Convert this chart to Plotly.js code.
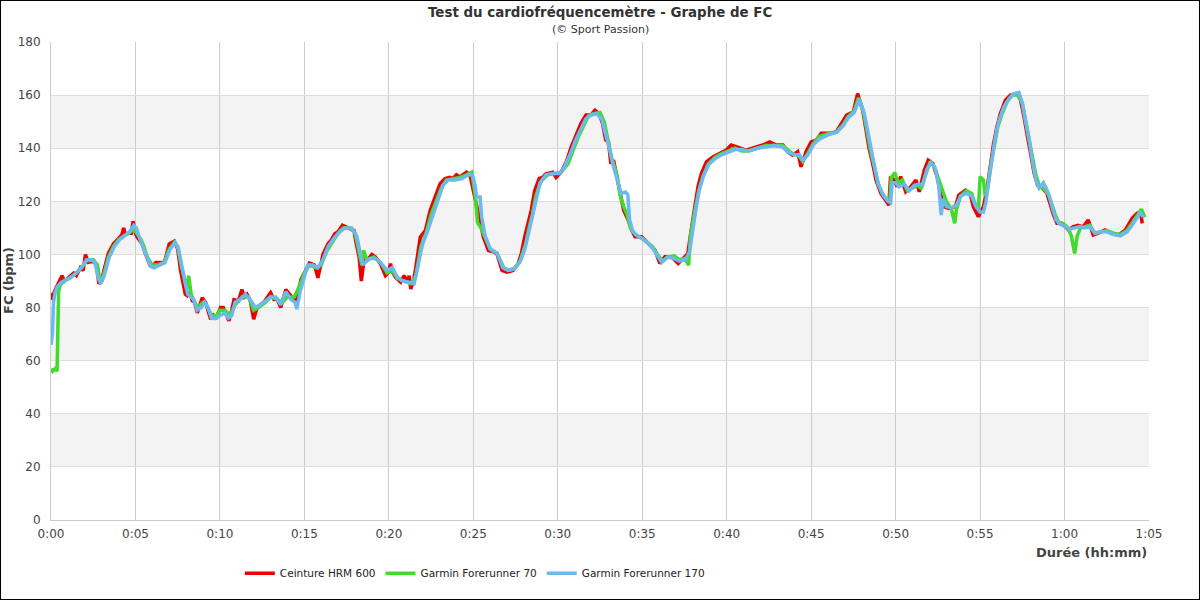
<!DOCTYPE html>
<html><head><meta charset="utf-8">
<script src="https://cdn.plot.ly/plotly-3.0.1.min.js"></script>
<style>
html,body{margin:0;padding:0;background:#fff;}
#chart{width:1198px;height:598px;border:1px solid #000;}
</style></head><body>
<div id="chart"></div>
<script>
const seriesNames = ["Ceinture HRM 600", "Garmin Forerunner 70", "Garmin Forerunner 170"];
const seriesColors = ["#ee0000", "#3fdd2a", "#6cb9f0"];
const xTickVals = [0,5,10,15,20,25,30,35,40,45,50,55,60,65];
const xTickText = ["0:00","0:05","0:10","0:15","0:20","0:25","0:30","0:35","0:40","0:45","0:50","0:55","1:00","1:05"];
const yTickVals = [0,20,40,60,80,100,120,140,160,180];

const hrmT = [0,0.1,0.2,0.35,0.5,0.65,0.8,1.0,1.34,1.5,1.74,1.9,2.04,2.2,2.5,2.7,2.83,3.0,3.12,3.4,3.7,4.0,4.2,4.3,4.4,4.6,4.75,4.86,5.0,5.1,5.4,5.55,5.7,5.85,6.0,6.2,6.5,6.7,6.8,7.0,7.3,7.5,7.67,7.87,7.95,8.06,8.2,8.36,8.5,8.66,8.8,8.95,9.15,9.3,9.45,9.6,9.74,9.9,10.04,10.2,10.33,10.53,10.7,10.83,11.1,11.3,11.45,11.6,11.8,12.0,12.15,12.3,12.6,12.8,13.0,13.2,13.4,13.6,13.75,13.9,14.2,14.5,14.65,14.8,15.1,15.3,15.6,15.8,16.0,16.1,16.4,16.6,16.8,17.0,17.25,17.55,17.94,18.04,18.24,18.37,18.45,18.53,18.8,19.0,19.2,19.5,19.8,19.95,20.1,20.25,20.4,20.7,20.9,21.1,21.2,21.3,21.45,21.57,21.86,22.16,22.45,22.75,23.04,23.33,23.6,23.8,24.0,24.2,24.4,24.6,24.8,25.0,25.2,25.4,25.6,25.9,26.2,26.4,26.7,27.0,27.35,27.65,27.84,28.04,28.24,28.43,28.63,28.9,29.1,29.3,29.7,29.9,30.2,30.5,30.8,31.1,31.37,31.67,31.96,32.2,32.45,32.65,32.84,33.0,33.14,33.3,33.5,33.7,33.9,34.17,34.37,34.57,34.96,35.26,35.55,35.75,36.04,36.34,36.73,37.13,37.52,37.7,37.9,38.1,38.3,38.5,38.8,39.2,39.6,39.98,40.27,40.77,41.16,41.75,42.15,42.54,42.93,43.33,43.6,43.9,44.2,44.4,44.7,45.0,45.3,45.6,46.1,46.5,46.8,47.1,47.5,47.75,48.05,48.25,48.45,48.64,48.84,49.13,49.4,49.6,49.7,49.9,50.1,50.3,50.6,50.9,51.2,51.4,51.7,51.93,52.2,52.46,52.66,52.85,53.15,53.54,53.74,54.13,54.43,54.6,54.9,55.2,55.4,55.6,55.8,56.0,56.2,56.5,56.8,57.2,57.4,57.6,57.8,58.0,58.2,58.4,58.7,58.96,59.15,59.35,59.55,59.84,60.24,60.5,60.8,61.1,61.4,61.7,62.0,62.4,62.8,63.2,63.6,64.0,64.3,64.5,64.6];
const hrmV = [85.5,83,86,88,89.5,92,90,91,93,92,95,94,100,97,97.5,96,89,90,93.7,100.5,104,106,107.5,110,107.5,108,108,112.5,108,106.5,104,101,98,96,95.5,97,97,97,99,104,105,102,94,88,85,84.5,86,82.5,82,78,81,83.7,82,79,75.6,77,75.6,78,80,80,78,75,79,83,82.5,86.8,84,85,82.5,75.6,79,80.6,82,84,85.6,83,83,80,83,86.8,84.4,83,86,90.6,94.3,96.8,96,91.2,97,100,104,105.5,107.8,108.6,111,110,109,105,99,90,94,97.7,98.4,100,99,96.5,92,93,96.5,93,91.4,89.6,92,89.6,92,87,90,94,106.5,109,116.6,121.6,126.7,128.6,129,128.6,130,129.2,130,131,130,124,118,111.6,106.5,101.5,101,100.2,94,93.3,94,96.5,100.2,106.5,111.6,116.6,124,128.6,129,130.4,131,129,131,134.8,140.5,145.5,149.3,152.5,152.5,154.3,153,149.3,143,142.4,134.2,135.5,129.3,123,116.7,113,109.2,106.7,106.7,104.8,102.9,101.7,96.6,99.1,99.1,96.6,99.1,100.4,109.2,118,125.5,130.5,134.9,136.8,138,139.3,141.2,140,139.3,140.5,141.2,142.4,141.2,141.2,138.7,137.4,138.7,133,138.7,142.4,143,145.6,145.6,146.2,149.3,152.5,153.7,160.6,154.4,146.8,139.3,134.3,128,123,120.5,118.6,129.3,128,125.5,129.3,123.6,125.5,128,123.6,131.8,135.5,134.3,129.3,123,118,117.3,118,122.4,124.2,122.4,118,114.2,118,124.2,133,141.8,148,153.1,158.1,160,160.6,158.1,151.8,144.3,138,130.5,126.1,124.9,123,118.6,114.8,111.7,111.7,109.2,110.4,111,110.4,113,107.3,108,109.2,108,107.3,109.2,113.6,115.5,116,111.7];

const fr70T = [0,0.1,0.25,0.36,0.45,0.55,0.8,1.1,1.4,1.8,2.1,2.5,2.75,2.9,3.1,3.4,3.7,4.0,4.3,4.6,4.9,5.1,5.3,5.5,5.7,6.0,6.3,6.7,7.0,7.3,7.5,7.7,7.9,8.05,8.15,8.3,8.5,8.7,9.0,9.2,9.5,9.8,10.0,10.3,10.6,10.9,11.3,11.7,12.0,12.3,12.7,13.0,13.4,13.7,14.0,14.4,14.7,15.0,15.3,15.7,16.0,16.3,16.7,17.0,17.3,17.7,18.0,18.2,18.4,18.5,18.7,19.1,19.5,19.9,20.2,20.5,20.9,21.3,21.6,21.9,22.2,22.5,22.8,23.1,23.4,23.8,24.2,24.6,24.9,25.1,25.25,25.45,25.7,26.0,26.4,26.8,27.1,27.5,27.8,28.1,28.3,28.5,28.7,29.0,29.4,29.8,30.2,30.6,30.9,31.2,31.5,31.8,32.1,32.5,32.75,32.95,33.2,33.5,33.7,33.9,34.1,34.3,34.6,35.0,35.3,35.6,35.9,36.2,36.5,36.9,37.2,37.5,37.75,37.85,38.1,38.35,38.6,38.9,39.3,39.7,40.1,40.5,40.9,41.3,41.8,42.3,42.8,43.3,43.6,43.9,44.3,44.5,44.8,45.1,45.5,46.0,46.5,46.9,47.2,47.55,47.8,48.1,48.35,48.55,48.75,48.95,49.2,49.5,49.65,49.75,49.95,50.15,50.4,50.7,51.0,51.3,51.5,51.8,52.05,52.3,52.55,52.75,53.0,53.3,53.5,53.6,53.85,54.2,54.5,54.7,54.9,55.0,55.2,55.3,55.45,55.65,55.85,56.05,56.3,56.6,56.9,57.25,57.5,57.7,57.9,58.1,58.3,58.5,58.8,59.05,59.25,59.45,59.65,59.95,60.2,60.4,60.6,60.75,60.95,61.2,61.5,61.8,62.1,62.5,62.9,63.3,63.7,64.1,64.4,64.55,64.75];
const fr70V = [57,56,57,56,86,88.5,90,91,92.5,95,97.5,98,96,90,92,99,103,105.5,107,108,109.5,108,106,103,99,96,96,97,102,104.5,103,96,90,87,92,85,82,80,82,81,77,77,79,79,77,81,84,84,79,80,82,84,83,82,84,84,88,93,96,95,96,101,105,108,110,110,108,102,96,101.5,98,99,97,93,94,91,90,89,92,103,108,115,120,125,128,128.5,129,130,131,123,112,110,106,102,100.5,95,94,95,98,104,110,115,122,127.5,130,130.5,131,134,139,144,148,152,153,153.5,150,144,136,130,122,118,115,110,107.5,106,104.5,103,100,97.5,99,99.5,98,98.5,96,107,116,124,129.5,134,136.5,138,139,140,139,139,140,141,141,141,139.5,138,137,135,138,141.5,144.5,145.5,146,149,152,154,159,153.5,145,138,133,127,123,120.5,120,129,130.8,127,128,124,125,126,125,131,135,133,128,124,120,117,111.7,117,122,124,123,119,117,129.3,128,122,125,134,142,148,153,157.5,160,160,157,150,143,137,130,126,124.5,122.5,118.5,115,112,111.5,110,107,100.4,107,110,110.5,111,108,108.5,109,108,107.5,109,113,116,117,114];

const fr170T = [0,0.08,0.15,0.25,0.4,0.6,0.9,1.2,1.5,1.8,2.1,2.4,2.6,2.8,2.95,3.15,3.45,3.75,4.05,4.35,4.65,4.9,5.05,5.25,5.45,5.65,5.9,6.1,6.4,6.75,7.05,7.35,7.55,7.75,7.95,8.1,8.3,8.45,8.65,8.9,9.1,9.3,9.5,9.8,10.0,10.3,10.5,10.7,10.9,11.2,11.5,11.8,12.1,12.4,12.7,13.0,13.3,13.6,13.9,14.2,14.45,14.55,14.75,15.0,15.2,15.5,15.8,16.1,16.4,16.8,17.1,17.4,17.8,18.1,18.3,18.45,18.6,18.9,19.2,19.5,19.9,20.2,20.5,20.8,21.2,21.5,21.7,22.0,22.3,22.6,22.9,23.2,23.5,23.9,24.3,24.7,24.95,25.1,25.2,25.4,25.5,25.7,26.0,26.4,26.75,27.05,27.4,27.75,28.05,28.3,28.5,28.7,28.95,29.3,29.7,30.1,30.4,30.75,31.05,31.35,31.65,31.95,32.3,32.6,32.85,33.05,33.3,33.55,33.75,34.0,34.15,34.25,34.45,34.7,35.0,35.3,35.6,35.9,36.15,36.5,36.85,37.2,37.55,37.8,38.0,38.2,38.4,38.65,38.95,39.3,39.7,40.1,40.5,40.9,41.3,41.8,42.3,42.8,43.3,43.65,44.0,44.3,44.5,44.8,45.15,45.5,46.0,46.5,46.9,47.2,47.55,47.85,48.15,48.4,48.6,48.8,49.0,49.3,49.55,49.7,49.8,50.0,50.2,50.5,50.8,51.1,51.4,51.6,51.85,52.1,52.35,52.55,52.7,52.8,53.0,53.3,53.6,53.85,54.2,54.5,54.75,55.0,55.2,55.35,55.5,55.7,55.9,56.1,56.4,56.7,57.0,57.3,57.5,57.7,57.9,58.1,58.3,58.5,58.75,58.95,59.1,59.3,59.5,59.7,60.0,60.3,60.6,60.9,61.2,61.5,61.8,62.1,62.5,62.9,63.3,63.7,64.0,64.3,64.5,64.65];
const fr170V = [66,70,82,86,88,89.5,90.5,91.5,93,95,98,98,97,91,89,92,99,103,105.5,107,108.5,111,110,106,103,100,95.5,95,96,97,102,104.5,102,95,89,85,84,83,79,80,82,80,76,76,77,78,76,77,82,83,85,83,80,81,82.5,84,84,81,86,83,82,79.4,86,92,96,96,95,98,103,106.5,108.5,110,110,107,101,96,97,98.5,98.5,97,94,95,91.5,90,89.5,89,95,104,109,115,120.5,126,128,128,128.5,130,130,126,121.6,121.6,114,107,102,100.5,95,94,94.5,97,102,109,115,121,127,130,130.5,130.5,133,138,143,147,151,152.5,153,151,145.5,140,133,127,123,123.5,122.5,113,108.5,107,106,104.5,102.5,99.5,97,99,98.5,97.5,98,101,110,118,125,130,134,136,137.5,138.5,139.5,139.5,139,140,140.5,141,140.5,138.5,137.5,137.5,135.5,137.5,141.5,143.5,145,146,148.5,151.5,153.5,158.5,153,144,137,131.5,126,122,120,119.5,127,127,125.5,126.5,124,126,126.5,126,132,134.5,132.5,126,114.8,121,118,117.5,118.5,122,123,122,118,116,116,120,127,136,144,150,155.5,158.5,160.5,161,157,150,143.5,135,128,125,127,124.5,122,117,113,111.5,110.5,109.5,110,110.5,110,110.5,108,108.5,108.5,107.5,107,108.5,111,114,116,114];

const seriesT = [hrmT, fr70T, fr170T];
const seriesV = [hrmV, fr70V, fr170V];

const traces = seriesNames.map((n, i) => ({
  type: 'scatter', mode: 'lines', name: n,
  x: seriesT[i], y: seriesV[i],
  line: {color: seriesColors[i], width: 3.5, shape: 'linear'},
  hoverinfo: 'skip'
}));

const shapes = [];
for (let b = 20; b < 180; b += 40) {
  shapes.push({type: 'rect', xref: 'paper', yref: 'y', x0: 0, x1: 1, y0: b, y1: b + 20,
    fillcolor: '#f3f3f3', line: {width: 0}, layer: 'below'});
}

const font = {family: 'DejaVu Sans, Verdana, sans-serif', size: 12, color: '#444'};

const layout = {
  width: 1198, height: 598,
  margin: {l: 50, r: 50, t: 41, b: 79, pad: 0, autoexpand: false},
  paper_bgcolor: '#fff', plot_bgcolor: '#fff',
  font: font,
  showlegend: true,
  legend: {orientation: 'h', x: 0.172, xanchor: 'left', y: -0.081, yanchor: 'top',
    font: {family: 'DejaVu Sans, sans-serif', size: 10.5, color: '#222'}, itemwidth: 30, traceorder: 'normal'},
  xaxis: {range: [0, 65], tickvals: xTickVals, ticktext: xTickText, showgrid: true,
    gridcolor: '#cccccc', gridwidth: 1, zeroline: false, showline: true, linecolor: '#cccccc',
    ticks: '', ticklabelstandoff: 3, tickfont: {size: 12, color: '#444'}, fixedrange: true},
  yaxis: {range: [0, 180], tickvals: yTickVals, showgrid: true, gridcolor: '#dddddd',
    gridwidth: 1, zeroline: false, showline: true, linecolor: '#cccccc', ticks: '',
    ticklabelstandoff: 7, tickfont: {size: 12, color: '#444'}, fixedrange: true},
  shapes: shapes,
  annotations: [
    {text: '<b>Test du cardiofréquencemètre - Graphe de FC</b>', xref: 'paper', yref: 'paper',
      x: 0.5, y: 1, yshift: 30, xanchor: 'center', yanchor: 'middle', showarrow: false,
      font: {size: 13.4, color: '#333'}},
    {text: '(© Sport Passion)', xref: 'paper', yref: 'paper', x: 0.5, y: 1, yshift: 13,
      xanchor: 'center', yanchor: 'middle', showarrow: false, font: {size: 11, color: '#333'}},
    {text: '<b>FC (bpm)</b>', xref: 'paper', yref: 'paper', x: 0, xshift: -43, y: 0.5,
      textangle: -90, xanchor: 'center', yanchor: 'middle', showarrow: false,
      font: {size: 13, color: '#444'}},
    {text: '<b>Durée (hh:mm)</b>', xref: 'paper', yref: 'paper', x: 1, y: 0, yshift: -32,
      xanchor: 'right', yanchor: 'middle', showarrow: false, font: {size: 13, color: '#444'}}
  ]
};

Plotly.newPlot('chart', traces, layout, {displayModeBar: false, staticPlot: true});
</script>
</body></html>
